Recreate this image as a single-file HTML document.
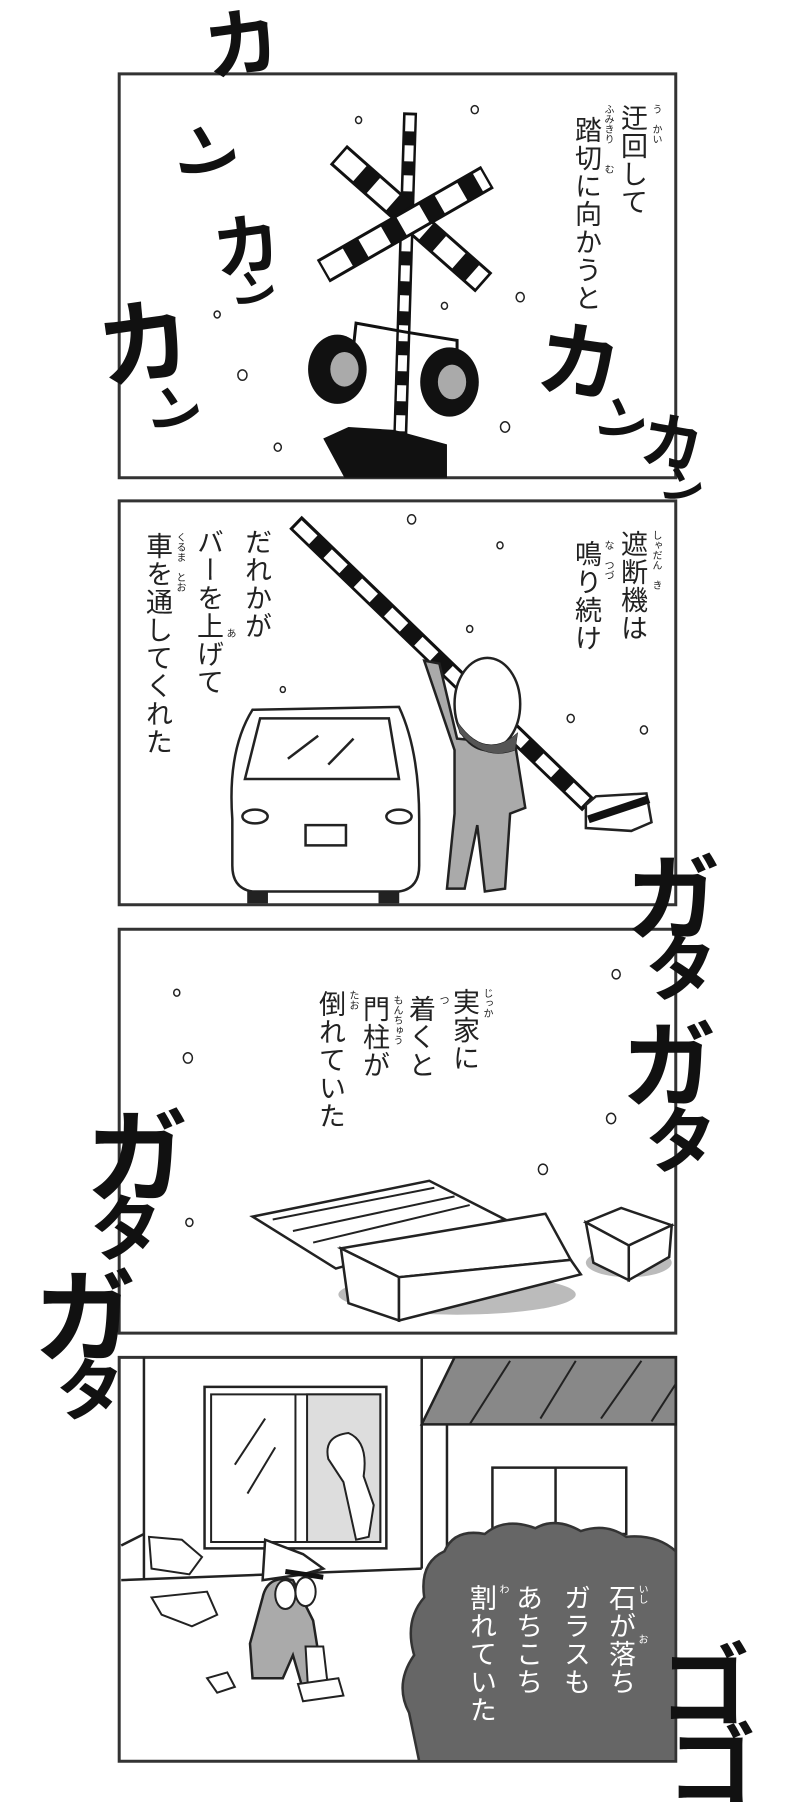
<!DOCTYPE html>
<html><head><meta charset="utf-8">
<style>
html,body{margin:0;padding:0;background:#fff;}
#wrap{position:relative;width:792px;height:1810px;overflow:hidden;background:#fff;font-family:"Liberation Sans","Noto Sans CJK JP",sans-serif;}
svg{position:absolute;left:0;top:0;}
.v{position:absolute;writing-mode:vertical-rl;font-size:27px;line-height:1;color:#222;letter-spacing:1px;white-space:nowrap;}
.r{position:absolute;writing-mode:vertical-rl;font-size:10px;line-height:1;color:#222;white-space:nowrap;}
.w{color:#fff;}
.fx{position:absolute;font-family:"Noto Sans CJK JP",sans-serif;font-weight:700;color:#111;line-height:1;transform-origin:center;}
</style></head><body><div id="wrap">
<svg width="792" height="1810" viewBox="0 0 792 1810">
<g transform="scale(0.50505,0.57703)" fill="none" stroke="#222">
 <rect x="236" y="128" width="1102" height="700" stroke="#333" stroke-width="3" vector-effect="non-scaling-stroke" fill="#fff"/>
 <line x1="812" y1="195" x2="792" y2="770" stroke="#111" stroke-width="14" vector-effect="non-scaling-stroke"/>
 <line x1="812" y1="200" x2="792" y2="765" stroke="#fff" stroke-width="9" stroke-dasharray="16 14" vector-effect="non-scaling-stroke"/>
 <line x1="670" y1="268" x2="958" y2="490" stroke="#111" stroke-width="26" vector-effect="non-scaling-stroke"/>
 <line x1="674" y1="271" x2="954" y2="487" stroke="#fff" stroke-width="20" stroke-dasharray="26 18" vector-effect="non-scaling-stroke"/>
 <line x1="640" y1="470" x2="965" y2="307" stroke="#111" stroke-width="26" vector-effect="non-scaling-stroke"/>
 <line x1="644" y1="468" x2="961" y2="309" stroke="#fff" stroke-width="20" stroke-dasharray="26 18" vector-effect="non-scaling-stroke"/>
 <polyline points="700,600 705,560 800,575 905,590 905,615" stroke="#111" stroke-width="3" vector-effect="non-scaling-stroke"/>
 <ellipse cx="668" cy="640" rx="58" ry="60" fill="#111" stroke="none"/>
 <ellipse cx="682" cy="640" rx="28" ry="30" fill="#aaa" stroke="none"/>
 <ellipse cx="890" cy="662" rx="58" ry="60" fill="#111" stroke="none"/>
 <ellipse cx="895" cy="662" rx="28" ry="30" fill="#aaa" stroke="none"/>
 <polygon points="640,760 690,740 780,745 885,770 885,828 682,828" fill="#111" stroke="none"/>
 <g stroke-width="1.5" vector-effect="non-scaling-stroke">
  <circle cx="940" cy="190" r="7" vector-effect="non-scaling-stroke"/><circle cx="710" cy="208" r="6" vector-effect="non-scaling-stroke"/>
  <circle cx="480" cy="650" r="9" vector-effect="non-scaling-stroke"/><circle cx="1030" cy="515" r="8" vector-effect="non-scaling-stroke"/>
  <circle cx="1000" cy="740" r="9" vector-effect="non-scaling-stroke"/><circle cx="550" cy="775" r="7" vector-effect="non-scaling-stroke"/>
  <circle cx="430" cy="545" r="6" vector-effect="non-scaling-stroke"/><circle cx="880" cy="530" r="6" vector-effect="non-scaling-stroke"/>
 </g>
 <rect x="236" y="868" width="1102" height="700" stroke="#333" stroke-width="3" vector-effect="non-scaling-stroke" fill="#fff"/>
 <g stroke-width="1.5">
  <circle cx="815" cy="900" r="8" vector-effect="non-scaling-stroke"/><circle cx="990" cy="945" r="6" vector-effect="non-scaling-stroke"/>
  <circle cx="930" cy="1090" r="6" vector-effect="non-scaling-stroke"/><circle cx="1130" cy="1245" r="7" vector-effect="non-scaling-stroke"/>
  <circle cx="1275" cy="1265" r="7" vector-effect="non-scaling-stroke"/><circle cx="560" cy="1195" r="5" vector-effect="non-scaling-stroke"/>
 </g>
 <path d="M460 1420 Q450 1300 500 1230 L790 1225 Q830 1300 830 1420 L830 1500 Q830 1540 790 1545 L500 1545 Q460 1540 460 1500 Z" fill="#fff" stroke="#222" stroke-width="2.5" vector-effect="non-scaling-stroke"/>
 <path d="M485 1350 L515 1245 L770 1245 L790 1350 Z" fill="#fff" stroke="#222" stroke-width="2.5" vector-effect="non-scaling-stroke"/>
 <line x1="570" y1="1315" x2="630" y2="1275" stroke-width="2.5" vector-effect="non-scaling-stroke"/>
 <line x1="650" y1="1325" x2="700" y2="1280" stroke-width="2.5" vector-effect="non-scaling-stroke"/>
 <ellipse cx="505" cy="1415" rx="25" ry="12" stroke-width="2.5" vector-effect="non-scaling-stroke"/>
 <ellipse cx="790" cy="1415" rx="25" ry="12" stroke-width="2.5" vector-effect="non-scaling-stroke"/>
 <rect x="605" y="1430" width="80" height="35" stroke-width="2.5" vector-effect="non-scaling-stroke"/>
 <rect x="490" y="1545" width="40" height="20" fill="#222"/>
 <rect x="750" y="1545" width="40" height="20" fill="#222"/>
 <line x1="585" y1="905" x2="1165" y2="1395" stroke="#111" stroke-width="18" vector-effect="non-scaling-stroke"/>
 <line x1="589" y1="909" x2="1160" y2="1391" stroke="#fff" stroke-width="12" stroke-dasharray="22 20" vector-effect="non-scaling-stroke"/>
 <path d="M840 1145 L870 1150 L905 1280 L1020 1290 L1040 1400 L1010 1410 L1000 1540 L960 1545 L945 1430 L920 1540 L885 1540 L900 1410 L900 1300 Z" fill="#aaa" stroke="#222" stroke-width="2.5" vector-effect="non-scaling-stroke"/>
 <ellipse cx="965" cy="1220" rx="65" ry="80" fill="#fff" stroke="#222" stroke-width="2.5" vector-effect="non-scaling-stroke"/>
 <path d="M905 1250 Q960 1320 1025 1270 L1020 1300 Q960 1320 910 1270Z" fill="#555"/>
 <polygon points="1160,1395 1180,1380 1280,1375 1290,1425 1250,1440 1160,1435" fill="#fff" stroke="#222" stroke-width="2.5" vector-effect="non-scaling-stroke"/>
 <line x1="1165" y1="1420" x2="1285" y2="1385" stroke="#111" stroke-width="8" vector-effect="non-scaling-stroke"/>
</g>
<g transform="translate(0,905) scale(0.50505,0.57703)" fill="none" stroke="#222">
 <rect x="236" y="42" width="1102" height="700" stroke="#333" stroke-width="3" vector-effect="non-scaling-stroke" fill="#fff"/>
 <g stroke-width="1.5">
  <circle cx="350" cy="152" r="6" vector-effect="non-scaling-stroke"/><circle cx="372" cy="265" r="9" vector-effect="non-scaling-stroke"/>
  <circle cx="1220" cy="120" r="8" vector-effect="non-scaling-stroke"/><circle cx="1210" cy="370" r="9" vector-effect="non-scaling-stroke"/>
  <circle cx="1075" cy="458" r="9" vector-effect="non-scaling-stroke"/><circle cx="375" cy="550" r="7" vector-effect="non-scaling-stroke"/>
 </g>
 <polygon points="500,540 850,478 1000,545 665,630" fill="#fff" stroke-width="2.5" vector-effect="non-scaling-stroke"/>
 <line x1="540" y1="545" x2="860" y2="490" stroke-width="2" vector-effect="non-scaling-stroke"/>
 <line x1="580" y1="565" x2="900" y2="505" stroke-width="2" vector-effect="non-scaling-stroke"/>
 <line x1="620" y1="585" x2="930" y2="520" stroke-width="2" vector-effect="non-scaling-stroke"/>
 <ellipse cx="905" cy="675" rx="235" ry="35" fill="#bbb" stroke="none"/>
 <ellipse cx="1245" cy="620" rx="85" ry="25" fill="#bbb" stroke="none"/>
 <polygon points="675,595 1080,535 1130,615 790,645" fill="#fff" stroke-width="2.5" vector-effect="non-scaling-stroke"/>
 <polygon points="675,595 790,645 790,720 690,690" fill="#fff" stroke-width="2.5" vector-effect="non-scaling-stroke"/>
 <polygon points="790,645 1130,615 1150,640 790,720" fill="#fff" stroke-width="2.5" vector-effect="non-scaling-stroke"/>
 <polygon points="1160,550 1230,525 1330,555 1245,590" fill="#fff" stroke-width="2.5" vector-effect="non-scaling-stroke"/>
 <polygon points="1160,550 1245,590 1245,650 1175,620" fill="#fff" stroke-width="2.5" vector-effect="non-scaling-stroke"/>
 <polygon points="1245,590 1330,555 1325,610 1245,650" fill="#fff" stroke-width="2.5" vector-effect="non-scaling-stroke"/>
 <rect x="236" y="784" width="1102" height="700" stroke="#333" stroke-width="3" vector-effect="non-scaling-stroke" fill="#fff"/>
 <line x1="285" y1="784" x2="285" y2="1170" stroke-width="2.5" vector-effect="non-scaling-stroke"/>
 <line x1="835" y1="784" x2="835" y2="1150" stroke-width="2.5" vector-effect="non-scaling-stroke"/>
 <polygon points="835,900 900,784 1338,784 1338,900" fill="#888" stroke-width="2.5" vector-effect="non-scaling-stroke"/>
 <line x1="930" y1="900" x2="1010" y2="790" stroke-width="2" vector-effect="non-scaling-stroke"/>
 <line x1="1070" y1="890" x2="1140" y2="790" stroke-width="2" vector-effect="non-scaling-stroke"/>
 <line x1="1190" y1="890" x2="1270" y2="790" stroke-width="2" vector-effect="non-scaling-stroke"/>
 <line x1="1290" y1="895" x2="1338" y2="830" stroke-width="2" vector-effect="non-scaling-stroke"/>
 <line x1="885" y1="900" x2="885" y2="1120" stroke-width="2.5" vector-effect="non-scaling-stroke"/>
 <rect x="975" y="975" width="265" height="115" fill="#fff" stroke-width="2.5" vector-effect="non-scaling-stroke"/>
 <line x1="1100" y1="975" x2="1100" y2="1090" stroke-width="2.5" vector-effect="non-scaling-stroke"/>
 <rect x="405" y="835" width="360" height="280" fill="#fff" stroke-width="2.5" vector-effect="non-scaling-stroke"/>
 <rect x="418" y="848" width="335" height="256" fill="#fff" stroke-width="2" vector-effect="non-scaling-stroke"/>
 <rect x="608" y="848" width="145" height="256" fill="#ddd" stroke-width="2" vector-effect="non-scaling-stroke"/>
 <line x1="585" y1="848" x2="585" y2="1104" stroke-width="2" vector-effect="non-scaling-stroke"/>
 <line x1="465" y1="970" x2="525" y2="890" stroke-width="2" vector-effect="non-scaling-stroke"/>
 <line x1="490" y1="1020" x2="545" y2="940" stroke-width="2" vector-effect="non-scaling-stroke"/>
 <path d="M650 960 Q640 920 690 915 Q730 930 720 990 L740 1040 L730 1095 L705 1100 L680 1000 Z" fill="#fff" stroke-width="2" vector-effect="non-scaling-stroke"/>
 <polyline points="240,1170 835,1150" stroke-width="2.5" vector-effect="non-scaling-stroke"/>
 <polyline points="240,1110 285,1090" stroke-width="2.5" vector-effect="non-scaling-stroke"/>
 <polygon points="295,1095 360,1100 400,1130 375,1160 300,1150" fill="#fff" stroke-width="2" vector-effect="non-scaling-stroke"/>
 <polygon points="300,1200 410,1190 430,1230 380,1250 320,1230" fill="#fff" stroke-width="2" vector-effect="non-scaling-stroke"/>
 <polygon points="410,1340 450,1330 465,1355 430,1365" fill="#fff" stroke-width="2" vector-effect="non-scaling-stroke"/>
 <path d="M520 1200 Q530 1160 580 1170 L620 1240 L640 1350 L600 1360 L580 1300 L560 1340 L500 1340 L495 1280 Z" fill="#aaa" stroke-width="2.5" vector-effect="non-scaling-stroke"/>
 <path d="M525 1100 L600 1125 L640 1150 L600 1160 L520 1170 Z" fill="#fff" stroke-width="2.5" vector-effect="non-scaling-stroke"/>
 <line x1="565" y1="1155" x2="640" y2="1165" stroke="#111" stroke-width="5" vector-effect="non-scaling-stroke"/>
 <ellipse cx="565" cy="1195" rx="20" ry="25" fill="#fff" stroke-width="2" vector-effect="non-scaling-stroke"/>
 <ellipse cx="605" cy="1190" rx="20" ry="25" fill="#fff" stroke-width="2" vector-effect="non-scaling-stroke"/>
 <polygon points="605,1285 640,1285 650,1360 610,1360" fill="#fff" stroke-width="2" vector-effect="non-scaling-stroke"/>
 <polygon points="590,1350 670,1340 680,1370 600,1380" fill="#fff" stroke-width="2" vector-effect="non-scaling-stroke"/>
 <path d="M830 1484 L810 1400 Q780 1350 820 1300 Q800 1240 840 1200 Q830 1140 880 1120 Q900 1080 960 1090 Q1000 1060 1060 1080 Q1100 1060 1150 1085 Q1200 1070 1240 1095 Q1300 1090 1338 1120 L1338 1484 Z" fill="#666" stroke="#333" stroke-width="2.5" vector-effect="non-scaling-stroke"/>
</g>
</svg>

<div class="v" style="left:618px;top:104px;">迂回して</div>
<div class="r" style="left:650px;top:104px;">う　かい</div>
<div class="v" style="left:572px;top:116px;">踏切に向かうと</div>
<div class="r" style="left:602px;top:104px;">ふみきり　　む</div>
<div class="v" style="left:618px;top:530px;">遮断機は</div>
<div class="r" style="left:650px;top:530px;">しゃだん　き</div>
<div class="v" style="left:572px;top:540px;">鳴り続け</div>
<div class="r" style="left:602px;top:540px;">な　つづ</div>
<div class="v" style="left:242px;top:528px;">だれかが</div>
<div class="v" style="left:194px;top:528px;">バーを上げて</div>
<div class="r" style="left:224px;top:628px;">あ</div>
<div class="v" style="left:143px;top:532px;">車を通してくれた</div>
<div class="r" style="left:174px;top:532px;">くるま　とお</div>
<div class="v" style="left:450px;top:988px;">実家に</div>
<div class="r" style="left:481px;top:988px;">じっか</div>
<div class="v" style="left:406px;top:995px;">着くと</div>
<div class="r" style="left:437px;top:995px;">つ</div>
<div class="v" style="left:360px;top:995px;">門柱が</div>
<div class="r" style="left:391px;top:995px;">もんちゅう</div>
<div class="v" style="left:316px;top:990px;">倒れていた</div>
<div class="r" style="left:347px;top:990px;">たお</div>
<div class="v w" style="left:606px;top:1584px;">石が落ち</div>
<div class="r w" style="left:636px;top:1584px;">いし　　　お</div>
<div class="v w" style="left:561px;top:1584px;">ガラスも</div>
<div class="v w" style="left:513px;top:1584px;">あちこち</div>
<div class="v w" style="left:467px;top:1584px;">割れていた</div>
<div class="r w" style="left:497px;top:1584px;">わ</div>

<div class="fx" style="left:203px;top:0px;font-size:76px;transform:rotate(-8deg);">カ</div>
<div class="fx" style="left:178px;top:120px;font-size:62px;transform:rotate(20deg);">ン</div>
<div class="fx" style="left:212px;top:207px;font-size:68px;transform:rotate(-8deg);">カ</div>
<div class="fx" style="left:234px;top:268px;font-size:42px;transform:rotate(15deg);">ン</div>
<div class="fx" style="left:96px;top:290px;font-size:94px;transform:rotate(-8deg);">カ</div>
<div class="fx" style="left:150px;top:382px;font-size:52px;transform:rotate(15deg);">ン</div>
<div class="fx" style="left:538px;top:315px;font-size:84px;transform:rotate(8deg);">カ</div>
<div class="fx" style="left:598px;top:394px;font-size:50px;transform:rotate(25deg);">ン</div>
<div class="fx" style="left:642px;top:407px;font-size:62px;transform:rotate(10deg);">カ</div>
<div class="fx" style="left:662px;top:464px;font-size:42px;transform:rotate(20deg);">ン</div>
<div class="fx" style="left:626px;top:845px;font-size:94px;">ガ</div>
<div class="fx" style="left:645px;top:928px;font-size:72px;">タ</div>
<div class="fx" style="left:622px;top:1012px;font-size:94px;">ガ</div>
<div class="fx" style="left:645px;top:1100px;font-size:72px;">タ</div>
<div class="fx" style="left:86px;top:1100px;font-size:102px;">ガ</div>
<div class="fx" style="left:90px;top:1188px;font-size:72px;">タ</div>
<div class="fx" style="left:34px;top:1260px;font-size:102px;">ガ</div>
<div class="fx" style="left:56px;top:1352px;font-size:68px;">タ</div>
<div class="fx" style="left:660px;top:1634px;font-size:90px;">ゴ</div>
<div class="fx" style="left:668px;top:1716px;font-size:88px;">ゴ</div>
</div></body></html>
